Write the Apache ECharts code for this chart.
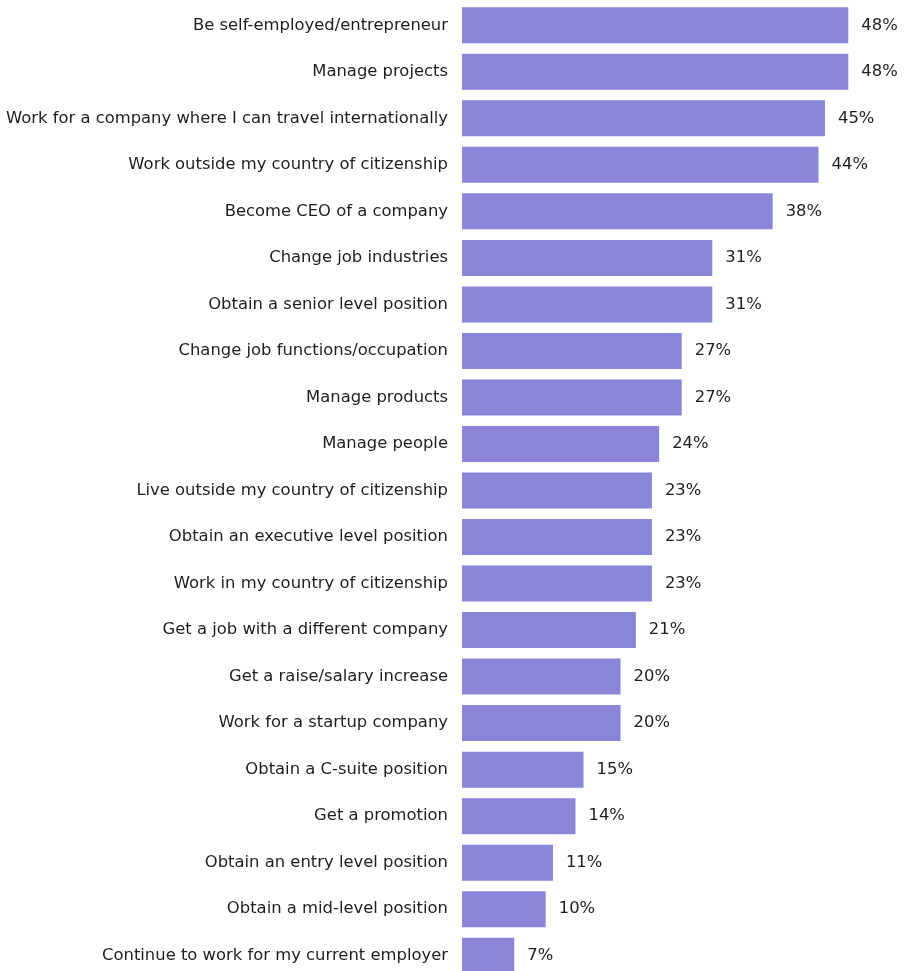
<!DOCTYPE html>
<html>
<head>
<meta charset="utf-8">
<script src="https://cdn.jsdelivr.net/npm/echarts@6/dist/echarts.min.js"></script>
<style>
html,body{margin:0;padding:0;background:#fff;}
#chart{width:904px;height:971px;}
</style>
</head>
<body>
<div id="chart"></div>
<script>
const categories = [
  "Be self-employed/entrepreneur",
  "Manage projects",
  "Work for a company where I can travel internationally",
  "Work outside my country of citizenship",
  "Become CEO of a company",
  "Change job industries",
  "Obtain a senior level position",
  "Change job functions/occupation",
  "Manage products",
  "Manage people",
  "Live outside my country of citizenship",
  "Obtain an executive level position",
  "Work in my country of citizenship",
  "Get a job with a different company",
  "Get a raise/salary increase",
  "Work for a startup company",
  "Obtain a C-suite position",
  "Get a promotion",
  "Obtain an entry level position",
  "Obtain a mid-level position",
  "Continue to work for my current employer"
];
// bar lengths
const barValues = [48.0, 48.0, 45.1, 44.3, 38.6, 31.1, 31.1, 27.3, 27.3, 24.5, 23.6, 23.6, 23.6, 21.6, 19.7, 19.7, 15.1, 14.1, 11.3, 10.4, 6.5];
// printed labels
const labelValues = [48, 48, 45, 44, 38, 31, 31, 27, 27, 24, 23, 23, 23, 21, 20, 20, 15, 14, 11, 10, 7];

const chart = echarts.init(document.getElementById('chart'), null, {renderer: 'canvas'});
const font = 'DejaVu Sans';
chart.setOption({
  animation: false,
  grid: {left: 462, width: 386.3, top: 2, height: 977, containLabel: false, outerBoundsMode: 'none'},
  xAxis: {
    type: 'value', min: 0, max: 48,
    show: false, splitLine: {show: false}
  },
  yAxis: {
    type: 'category', inverse: true, data: categories,
    axisLine: {show: false}, axisTick: {show: false},
    axisLabel: {margin: 14, color: '#1e1e1e', fontFamily: font, fontSize: 16.4}
  },
  series: [{
    type: 'bar',
    data: barValues,
    barWidth: 36,
    itemStyle: {color: '#8a85d9'},
    label: {
      show: true, position: 'right', distance: 13,
      color: '#1e1e1e', fontFamily: font, fontSize: 16.4,
      formatter: p => labelValues[p.dataIndex] + '%'
    }
  }]
});
</script>
</body>
</html>
